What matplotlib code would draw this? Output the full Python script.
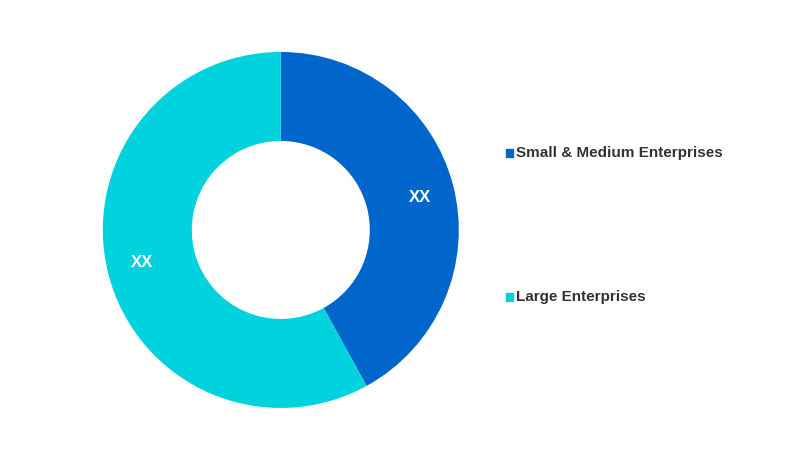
import matplotlib.pyplot as plt

segments = ["Small & Medium Enterprises", "Large Enterprises"]
shares = [42, 58]
labels = ["XX", "XX"]
colors = ["#0066CC", "#00D3DE"]

plt.rcParams["font.family"] = "Liberation Sans"
fig = plt.figure(figsize=(8, 4.59), dpi=100)
ax = fig.add_axes([0.351 - 0.2225, 0.499 - 0.388, 0.445, 0.776])
wedges, texts = ax.pie(shares, colors=colors, startangle=90, counterclock=False,
                       labels=labels, labeldistance=0.74,
                       wedgeprops=dict(width=0.5, edgecolor="none"),
                       textprops=dict(color="white", fontweight="bold", fontsize=12))
ax.set_xlim(-1, 1)
ax.set_ylim(-1, 1)
ax.set_aspect("equal")

# legend entries placed by hand to match the reference layout
for name, c, y in zip(segments, colors, [0.667, 0.353]):
    fig.patches.append(plt.Rectangle((0.632, y - 0.009), 0.009, 0.017, color=c,
                                     transform=fig.transFigure, figure=fig))
    fig.text(0.645, y, name, va="center", ha="left", fontsize=11,
             fontweight="bold", color="#333333")

plt.savefig("out.png", dpi=100)
